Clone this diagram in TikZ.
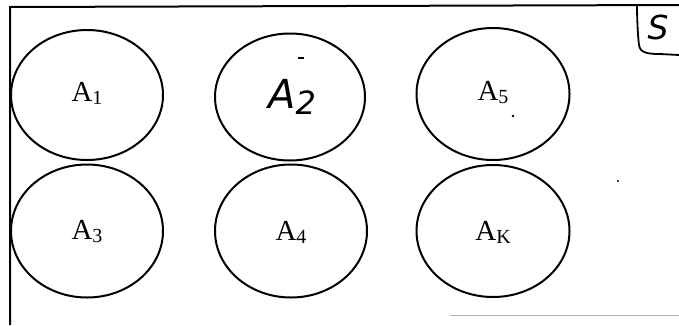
\documentclass[tikz,border=0pt]{standalone}
\usepackage{fontspec}
\setmainfont{Liberation Serif}
\newfontfamily\handfont{DejaVu Sans}
\usetikzlibrary{shapes.geometric}
\tikzset{
  setbox/.style={draw=black, line width=2pt, ellipse, inner sep=0pt},
  lbl/.style={font=\fontsize{29}{29}\selectfont},
  frameline/.style={line width=2pt, black},
}
\newcommand{\sublbl}[1]{A\raisebox{-3pt}{\fontsize{20}{20}\selectfont #1}}
\begin{document}
\begin{tikzpicture}[x=1pt,y=-1pt]
\useasboundingbox (0,0) rectangle (679,325);
% frame
\coordinate (tl) at (10,7);
\coordinate (bl) at (10,325);
\coordinate (tr) at (679,5);
\draw[frameline] (bl) -- (tl) -- (tr);
% S corner
\coordinate (sb0) at (637,5);
\coordinate (sb1) at (679,55);
\draw[frameline, line width=1.8pt] (sb0) .. controls (637,20) and (638,38) .. (639,45) .. controls (640,53) and (648,54) .. (660,54) -- (sb1);
\node[font=\handfont\itshape\fontsize{33}{33}\selectfont] (S) at (658,27) {S};
% bottom faint line
\coordinate (bb0) at (450,315);
\coordinate (bb1) at (679,315);
\draw[gray!60, line width=0.8pt] (bb0) -- (bb1);
% ellipses
\node[setbox, minimum width=152pt, minimum height=130pt] (e1) at (87,95) {};
\node[setbox, minimum width=150pt, minimum height=127pt] (e2) at (290,97) {};
\node[setbox, minimum width=153pt, minimum height=132pt] (e5) at (493,94) {};
\node[setbox, minimum width=152pt, minimum height=133pt] (e3) at (87,231) {};
\node[setbox, minimum width=152pt, minimum height=133pt] (e4) at (291,231) {};
\node[setbox, minimum width=153pt, minimum height=132pt] (ek) at (493,231) {};
% labels
\node[lbl] (t1) at (87,93) {\sublbl{1}};
\node[font=\handfont\itshape\fontsize{40}{40}\selectfont] (t2) at (292,97) {A\raisebox{-6pt}{\fontsize{32}{32}\selectfont 2}};
\node[lbl] (t5) at (493,93) {\sublbl{5}};
\node[lbl] (t3) at (87,232) {\sublbl{3}};
\node[lbl] (t4) at (291,232) {\sublbl{4}};
\node[lbl] (tk) at (493,232) {A\raisebox{-3pt}{\fontsize{20}{20}\selectfont K}};
% specks
\fill (513,116) circle (1.4pt);
\fill (618,181) circle (1.2pt);
\draw[line width=1.2pt] (298,58) -- (304,58);
\end{tikzpicture}
\end{document}
